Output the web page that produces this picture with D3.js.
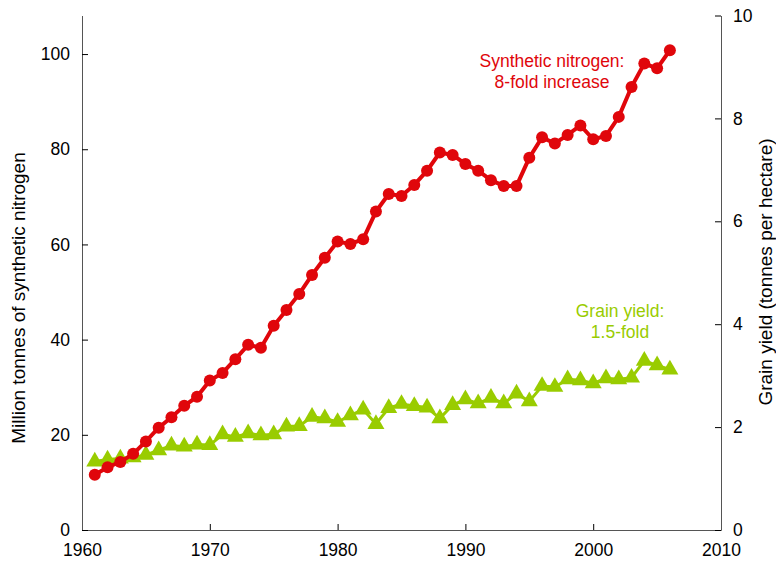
<!DOCTYPE html>
<html>
<head>
<meta charset="utf-8">
<title>Nitrogen and grain yield</title>
<style>
    body{ margin: 0; background: #fff; }
    svg text{ font-family: "Liberation Sans", Arial, sans-serif; }
</style>
<script src="https://cdn.jsdelivr.net/npm/d3@7"></script>
</head>
<body>
<svg width="776" height="570"></svg>
<script>
// years 1961-2006
const years = d3.range(1961, 2007);
// million tonnes of synthetic nitrogen
const nitrogen = [11.6, 13.2, 14.3, 16.0, 18.6, 21.5, 23.7, 26.1, 28.0, 31.4,
    33.0, 35.9, 38.9, 38.3, 42.9, 46.2, 49.6, 53.6, 57.2, 60.6,
    60.1, 61.1, 66.9, 70.6, 70.2, 72.5, 75.5, 79.3, 78.8, 76.9,
    75.5, 73.5, 72.3, 72.3, 78.2, 82.5, 81.2, 83.0, 85.0, 82.1,
    82.8, 86.8, 93.1, 98.0, 97.0, 100.8];
// grain yield, tonnes per hectare
const grain = [1.33, 1.37, 1.39, 1.41, 1.46, 1.55, 1.64, 1.62, 1.66, 1.65,
    1.86, 1.81, 1.88, 1.84, 1.86, 2.01, 2.02, 2.20, 2.17, 2.10,
    2.23, 2.34, 2.06, 2.37, 2.45, 2.41, 2.38, 2.17, 2.43, 2.54,
    2.46, 2.57, 2.46, 2.65, 2.50, 2.80, 2.78, 2.93, 2.91, 2.85,
    2.95, 2.93, 2.96, 3.29, 3.20, 3.12];
const xTicks = [1960, 1970, 1980, 1990, 2000, 2010];
const leftTicks = [0, 20, 40, 60, 80, 100];
const rightTicks = [0, 2, 4, 6, 8, 10];

const red = "#e0060b", green = "#99cc00";

let svg = d3.select("svg");

let x = d3.scaleLinear().domain([1960, 2010]).range([82, 721]);
let yL = d3.scaleLinear().domain([0, 108.1]).range([530, 15.5]);
let yR = d3.scaleLinear().domain([0, 10]).range([530, 15.5]);

// axes (ticks point inward)
let gx = svg.append("g").attr("transform", "translate(0,530)")
    .call(d3.axisBottom(x).tickValues(xTicks).tickFormat(d3.format("d")).tickSizeInner(-6).tickSizeOuter(0).tickPadding(14));
let gl = svg.append("g").attr("transform", "translate(82,0)")
    .call(d3.axisLeft(yL).tickValues(leftTicks).tickSizeInner(-6).tickSizeOuter(0).tickPadding(12));
let gr = svg.append("g").attr("transform", "translate(721,0)")
    .call(d3.axisRight(yR).tickValues(rightTicks).tickSizeInner(-6).tickSizeOuter(0).tickPadding(12));

[gx, gl, gr].forEach(g => {
    g.selectAll("text").style("font-size", "17.5px").attr("fill", "#000");
    g.selectAll("line").attr("stroke", "#000");
    g.select(".domain").attr("stroke", "#555");
});

// axis titles
svg.append("text")
    .attr("transform", "translate(25,298) rotate(-90)")
    .attr("text-anchor", "middle")
    .style("font-size", "19px")
    .text("Million tonnes of synthetic nitrogen");
svg.append("text")
    .attr("transform", "translate(772,272) rotate(-90)")
    .attr("text-anchor", "middle")
    .style("font-size", "19px")
    .text("Grain yield (tonnes per hectare)");

// grain series
const grainData = years.map((d, i) => ({year: d, v: grain[i]}));
svg.append("path")
    .datum(grainData)
    .attr("fill", "none")
    .attr("stroke", green)
    .attr("stroke-width", 3)
    .attr("d", d3.line().x(d => x(d.year)).y(d => yR(d.v)));
svg.selectAll(".tri")
    .data(grainData)
    .enter()
    .append("path")
    .attr("class", "tri")
    .attr("transform", d => `translate(${x(d.year)},${yR(d.v)})`)
    .attr("d", d3.symbol().type(d3.symbolTriangle).size(125))
    .attr("fill", green);

// nitrogen series
const nData = years.map((d, i) => ({year: d, v: nitrogen[i]}));
svg.append("path")
    .datum(nData)
    .attr("fill", "none")
    .attr("stroke", red)
    .attr("stroke-width", 4)
    .attr("d", d3.line().x(d => x(d.year)).y(d => yL(d.v)));
svg.selectAll(".dot")
    .data(nData)
    .enter()
    .append("circle")
    .attr("class", "dot")
    .attr("cx", d => x(d.year))
    .attr("cy", d => yL(d.v))
    .attr("r", 6)
    .attr("fill", red);

// annotations
let a1 = svg.append("text").attr("fill", red).attr("text-anchor", "middle").style("font-size", "17.5px");
a1.append("tspan").attr("x", 552).attr("y", 67).text("Synthetic nitrogen:");
a1.append("tspan").attr("x", 552).attr("y", 88).text("8-fold increase");
let a2 = svg.append("text").attr("fill", green).attr("text-anchor", "middle").style("font-size", "17.5px");
a2.append("tspan").attr("x", 620).attr("y", 317).text("Grain yield:");
a2.append("tspan").attr("x", 620).attr("y", 338).text("1.5-fold");
</script>
</body>
</html>
